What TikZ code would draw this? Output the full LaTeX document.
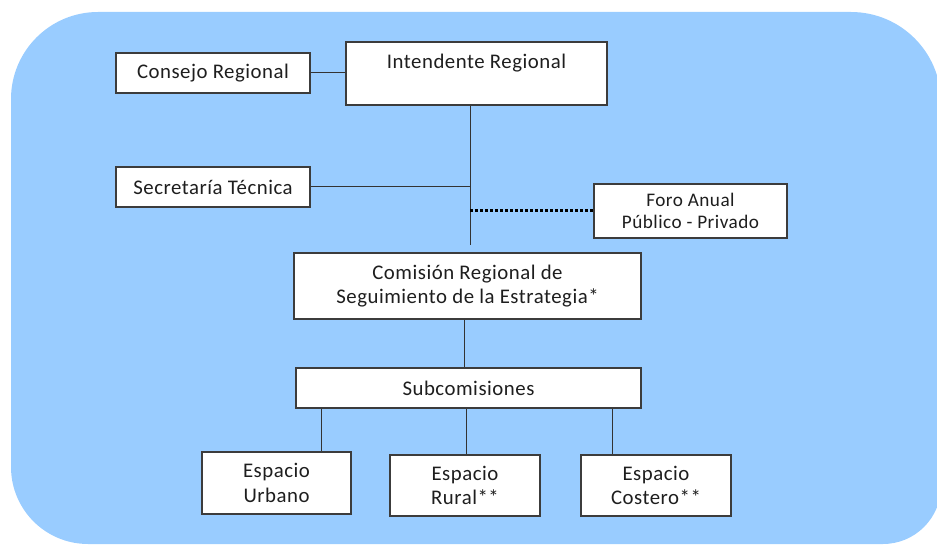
\documentclass[tikz,border=0pt]{standalone}
\usepackage{fontspec}
\setmainfont{Carlito}[LetterSpace=2.5]
\definecolor{bgblue}{RGB}{153,204,255}
\definecolor{boxline}{RGB}{60,60,60}
\definecolor{txt}{RGB}{30,30,30}
\begin{document}
\begin{tikzpicture}[x=1pt,y=1pt,
  box/.style={draw=boxline, line width=1.2pt, fill=white, inner sep=0pt, align=center,
    text=txt, font=\fontsize{20.8}{24.5}\selectfont},
  conn/.style={draw=black!80, line width=1pt},
  dotline/.style={draw=black, line width=3pt, dash pattern=on 2.6pt off 2.4pt},
  lbl/.style={inner sep=0pt, text=txt, font=\fontsize{20.8}{24.5}\selectfont}]
\useasboundingbox (0,0) rectangle (937,544);
\begin{scope}
\clip (0,0) rectangle (937,544);
\fill[bgblue] (11,445) arc[start angle=180,end angle=90,radius=87] -- (851,532)
  arc[start angle=90,end angle=0,radius=90] -- (941,58)
  arc[start angle=0,end angle=-90,radius=58] -- (88,0)
  arc[start angle=270,end angle=180,radius=77] -- cycle;
\end{scope}
% boxes
\node[box, minimum width=194, minimum height=40] (cons) at (213,471) {Consejo Regional};
\node[box, minimum width=261, minimum height=63] (int) at (476.5,470.5) {};
\node[lbl] (intT) at (476.5,481) {Intendente Regional};
\node[box, minimum width=194, minimum height=40] (sec) at (213,357) {Secretaría Técnica};
\node[box, minimum width=193, minimum height=54, font=\fontsize{19.2}{21.5}\selectfont] (foro) at (690.5,333) {Foro Anual\\Público - Privado};
\node[box, minimum width=347, minimum height=66] (com) at (467.5,258) {Comisión Regional de\\Seguimiento de la Estrategia*};
\node[box, minimum width=345, minimum height=40] (sub) at (468.5,156) {Subcomisiones};
\node[box, minimum width=149, minimum height=62] (urb) at (276.5,61) {Espacio\\Urbano};
\node[box, minimum width=150, minimum height=61] (rur) at (465,58.5) {Espacio\\Rural**};
\node[box, minimum width=150, minimum height=61] (cos) at (656,58.5) {Espacio\\Costero**};
% helper coordinates
\coordinate (vend) at (470,299);
\coordinate (cx) at (464,0);
\coordinate (b1) at (321,0);
\coordinate (b2) at (466,0);
\coordinate (b3) at (612,0);
% connectors
\draw[conn] (cons.east) -- (cons.east -| int.west);
\draw[conn] (vend |- int.south) -- (vend);
\draw[conn] (sec.east) -- (vend |- sec.east);
\draw[dotline] (vend |- foro.west) -- (foro.west);
\draw[conn] (cx |- com.south) -- (cx |- sub.north);
\draw[conn] (b1 |- sub.south) -- (b1 |- urb.north);
\draw[conn] (b2 |- sub.south) -- (b2 |- rur.north);
\draw[conn] (b3 |- sub.south) -- (b3 |- cos.north);
\end{tikzpicture}
\end{document}
